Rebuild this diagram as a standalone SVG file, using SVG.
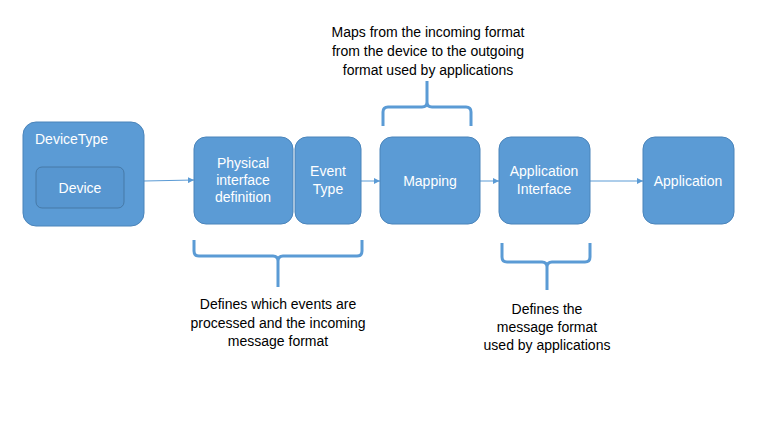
<svg xmlns="http://www.w3.org/2000/svg" width="768" height="432" viewBox="0 0 768 432">
<defs>
<style>
.box{fill:#5B9BD5;stroke:#4A84BA;stroke-width:1}
.inner{fill:#5796D0;stroke:#41719C;stroke-width:0.8}
.lbl{font-family:"Liberation Sans",Arial,sans-serif;font-size:14px;fill:#FFFFFF;text-anchor:middle}
.note{font-family:"Liberation Sans",Arial,sans-serif;font-size:14px;fill:#000000;text-anchor:middle}
.conn{stroke:#5B9BD5;stroke-width:1;fill:none;marker-end:url(#arr)}
.brace{stroke:#5B9BD5;stroke-width:3;fill:none;stroke-linejoin:round}
</style>
<marker id="arr" viewBox="0 0 6 6" refX="6" refY="3" markerWidth="6" markerHeight="6" markerUnits="userSpaceOnUse" orient="auto">
<path d="M0,0 L6,3 L0,6 z" fill="#5B9BD5"/>
</marker>
</defs>
<rect width="768" height="432" fill="#FFFFFF"/>
<g id="connectors">
<line class="conn" x1="144" y1="181" x2="194" y2="180"/>
<line class="conn" x1="361" y1="181" x2="380" y2="181"/>
<line class="conn" x1="480" y1="181" x2="499" y2="181"/>
<line class="conn" x1="590" y1="181" x2="643" y2="181"/>
</g>
<g id="deviceType">
<rect class="box" x="23" y="122" width="121" height="104" rx="13"/>
<text class="lbl" x="35" y="144" style="text-anchor:start">DeviceType</text>
</g>
<g id="device">
<rect class="inner" x="36" y="167" width="88" height="41" rx="6"/>
<text class="lbl" x="80" y="193">Device</text>
</g>
<g id="physical">
<rect class="box" x="194" y="137" width="99" height="87" rx="12"/>
<text class="lbl" x="243" y="168">Physical</text>
<text class="lbl" x="243" y="185">interface</text>
<text class="lbl" x="243" y="202">definition</text>
</g>
<g id="eventType">
<rect class="box" x="295" y="137" width="66" height="87" rx="12"/>
<text class="lbl" x="328" y="176">Event</text>
<text class="lbl" x="328" y="194">Type</text>
</g>
<g id="mapping">
<rect class="box" x="380" y="137" width="100" height="87" rx="12"/>
<text class="lbl" x="430" y="186">Mapping</text>
</g>
<g id="appInterface">
<rect class="box" x="499" y="137" width="91" height="87" rx="12"/>
<text class="lbl" x="544" y="176">Application</text>
<text class="lbl" x="544" y="194">Interface</text>
</g>
<g id="application">
<rect class="box" x="643" y="137" width="91" height="87" rx="12"/>
<text class="lbl" x="688" y="186">Application</text>
</g>
<g id="braceTop">
<path class="brace" d="M383,126 L383,112 Q383,107 388,107 L422,107 Q427,107 427,102 L427,81 M427,102 Q427,107 432,107 L466,107 Q471,107 471,112 L471,126"/>
<text class="note" x="428" y="37">Maps from the incoming format</text>
<text class="note" x="428" y="56">from the device to the outgoing</text>
<text class="note" x="428" y="75">format used by applications</text>
</g>
<g id="braceLeft">
<path class="brace" d="M194,240 L194,251 Q194,256 199,256 L273,256 Q278,256 278,261 L278,287 M278,261 Q278,256 283,256 L357,256 Q362,256 362,251 L362,240"/>
<text class="note" x="278" y="309">Defines which events are</text>
<text class="note" x="278" y="328">processed and the incoming</text>
<text class="note" x="278" y="346">message format</text>
</g>
<g id="braceRight">
<path class="brace" d="M502,243 L502,257 Q502,262 507,262 L542,262 Q547,262 547,267 L547,290 M547,267 Q547,262 552,262 L585,262 Q590,262 590,257 L590,243"/>
<text class="note" x="547" y="314">Defines the</text>
<text class="note" x="547" y="332">message format</text>
<text class="note" x="547" y="350">used by applications</text>
</g>
</svg>
